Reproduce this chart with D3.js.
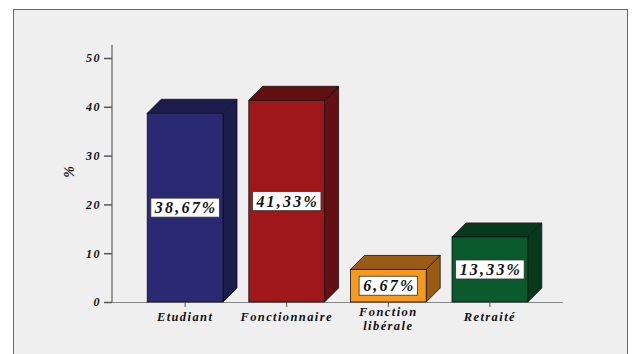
<!DOCTYPE html>
<html>
<head>
<meta charset="utf-8">
<script src="https://cdn.jsdelivr.net/npm/d3@7"></script>
<style>
  html, body { margin: 0; padding: 0; background: #ffffff; }
  svg { display: block; }
</style>
</head>
<body>
<svg id="chart" width="634" height="354"></svg>
<script>
// Répartition par profession (%)
const categories = [["Etudiant"], ["Fonctionnaire"], ["Fonction", "libérale"], ["Retraité"]];
const values = [38.67, 41.33, 6.67, 13.33];
const valueLabels = ["38,67%", "41,33%", "6,67%", "13,33%"];
const yTicks = [0, 10, 20, 30, 40, 50];
const frontColors = ["#292a72", "#a0171b", "#f7981f", "#0b5a2e"];
const shadeColors = ["#1c1c4d", "#641012", "#9a5b14", "#06391d"];

const FONT = "'Liberation Serif', 'Times New Roman', 'DejaVu Serif', serif";
const styleText = sel => sel
  .style("font-family", FONT).style("font-weight", "bold").style("font-style", "italic");

const svg = d3.select("#chart");

// panel
svg.append("rect")
  .attr("x", 13.5).attr("y", 9.5).attr("width", 614).attr("height", 360)
  .attr("fill", "#efefef").attr("stroke", "#6a6a6a").attr("stroke-width", 1);

const x0 = 112, yBase = 302;
const y = d3.scaleLinear().domain([0, 50]).range([yBase, 58]);
const x = d3.scaleBand().domain(d3.range(values.length)).range([134, 541]).paddingInner(0.254).paddingOuter(0.13);
const depth = 14;

// y axis
const yAxis = d3.axisLeft(y).tickValues(yTicks).tickSize(8).tickFormat(d3.format("d"));
const gy = svg.append("g").attr("transform", `translate(${x0},0)`).call(yAxis);
gy.select(".domain").attr("d", `M0,45V${yBase}`).attr("stroke", "#9a9a9a").attr("stroke-width", 2);
gy.selectAll(".tick line").attr("stroke", "#555").attr("stroke-width", 1.5);
gy.selectAll(".tick text").call(styleText).style("font-size", "12px").style("letter-spacing", "1.5px")
  .attr("fill", "#111").attr("x", -11);

// x axis baseline
svg.append("line").attr("x1", x0).attr("x2", 563).attr("y1", yBase + 0.5).attr("y2", yBase + 0.5)
  .attr("stroke", "#8a8a8a").attr("stroke-width", 1);

// y title
svg.append("text").call(styleText).style("font-size", "14px").attr("fill", "#111")
  .attr("transform", "translate(74,172) rotate(-90)").attr("text-anchor", "middle").text("%");

const bars = svg.append("g").selectAll("g").data(values).join("g");

// side face
bars.append("path")
  .attr("d", (d, i) => {
    const xr = x(i) + x.bandwidth(), yt = y(d);
    return `M${xr},${yt}L${xr + depth},${yt - depth}L${xr + depth},${yBase - depth}L${xr},${yBase}Z`;
  })
  .attr("fill", (d, i) => shadeColors[i]).attr("stroke", "#111").attr("stroke-width", 0.8);
// top face
bars.append("path")
  .attr("d", (d, i) => {
    const xl = x(i), xr = xl + x.bandwidth(), yt = y(d);
    return `M${xl},${yt}L${xl + depth},${yt - depth}L${xr + depth},${yt - depth}L${xr},${yt}Z`;
  })
  .attr("fill", (d, i) => shadeColors[i]).attr("stroke", "#111").attr("stroke-width", 0.8);
// front face
bars.append("rect")
  .attr("x", (d, i) => x(i)).attr("y", d => y(d))
  .attr("width", x.bandwidth()).attr("height", d => yBase - y(d))
  .attr("fill", (d, i) => frontColors[i]).attr("stroke", "#111").attr("stroke-width", 0.8);

// value labels
bars.each(function (d, i) {
  const g = d3.select(this);
  const cx = x(i) + x.bandwidth() / 2, cy = (y(d) + yBase) / 2;
  const box = g.append("rect").attr("fill", "#ffffff").attr("stroke", "#333").attr("stroke-width", 0.8);
  const t = g.append("text").call(styleText).style("font-size", "16px").style("letter-spacing", "2.2px")
    .attr("fill", "#111").attr("text-anchor", "middle").attr("x", cx + 1).attr("y", cy + 5.5).text(valueLabels[i]);
  const w = t.node().getComputedTextLength() + 6;
  box.attr("x", cx - w / 2).attr("y", cy - 9.5).attr("width", w).attr("height", 19);
});

// x ticks and labels
const gx = svg.append("g");
categories.forEach((lines, i) => {
  const cx = x(i) + x.bandwidth() / 2;
  gx.append("line").attr("x1", cx).attr("x2", cx).attr("y1", yBase).attr("y2", yBase + 5)
    .attr("stroke", "#555").attr("stroke-width", 1);
  lines.forEach((s, k) => {
    gx.append("text").call(styleText).style("font-size", "12.5px").style("letter-spacing", "1.4px")
      .attr("fill", "#111").attr("text-anchor", "middle")
      .attr("x", cx).attr("y", (lines.length > 1 ? 316 : 321) + k * 14).text(s);
  });
});
</script>
</body>
</html>
